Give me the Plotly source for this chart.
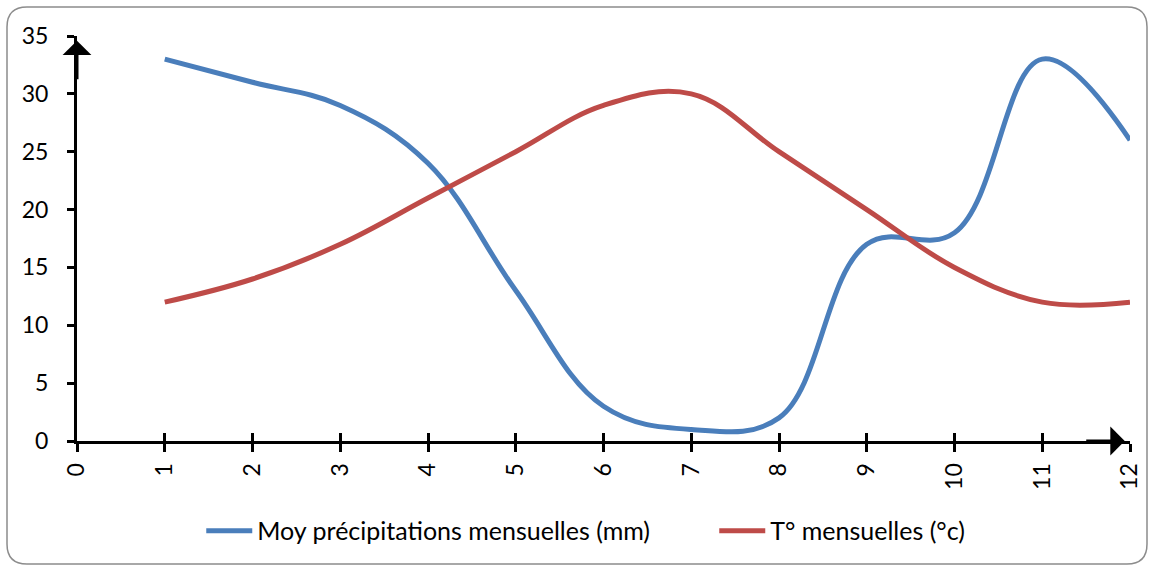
import plotly.graph_objects as go

months = [1, 2, 3, 4, 5, 6, 7, 8, 9, 10, 11, 12]
precip = [33, 31, 29, 24, 13, 3, 1, 2, 17, 18, 33, 26]
temp = [12, 14, 17, 21, 25, 29, 30, 25, 20, 15, 12, 12]
x_ticks = list(range(0, 13))
y_ticks = list(range(0, 36, 5))

W, H = 1150, 567
L, R, T, B = 77, 20, 36, 126
pw, ph = W - L - R, H - T - B

def px(x):
    return (x - L) / pw

def py(y):
    return (H - B - y) / ph

FONT = "Lato"

fig = go.Figure()
fig.add_trace(go.Scatter(x=months, y=precip, mode="lines", name="Moy précipitations mensuelles (mm)",
                         line=dict(color="#4A7EBB", width=5, shape="spline", smoothing=1.1)))
fig.add_trace(go.Scatter(x=months, y=temp, mode="lines", name="T° mensuelles (°c)",
                         line=dict(color="#BE4B48", width=5, shape="spline", smoothing=1.1)))
# invisible trace to activate the overlay axis used for the upper half of cross ticks
fig.add_trace(go.Scatter(x=[0, 12], y=[0, 0], xaxis="x2", mode="lines", line=dict(width=0),
                         showlegend=False, hoverinfo="skip"))

# rounded border
x0, y0, x1, y1, r = 7, 7, 1147, 564, 20
path = (f"M {px(x0+r)},{py(y0)} L {px(x1-r)},{py(y0)} Q {px(x1)},{py(y0)} {px(x1)},{py(y0+r)} "
        f"L {px(x1)},{py(y1-r)} Q {px(x1)},{py(y1)} {px(x1-r)},{py(y1)} "
        f"L {px(x0+r)},{py(y1)} Q {px(x0)},{py(y1)} {px(x0)},{py(y1-r)} "
        f"L {px(x0)},{py(y0+r)} Q {px(x0)},{py(y0)} {px(x0+r)},{py(y0)} Z")
fig.add_shape(type="path", path=path, xref="paper", yref="paper",
              line=dict(color="#8C8C8C", width=1.5), layer="below")

# axis arrows
fig.add_annotation(x=0, y=34.6, xref="x", yref="y", ax=0, ay=40, axref="pixel", ayref="pixel",
                   showarrow=True, arrowhead=1, arrowsize=1.6, arrowwidth=3, arrowcolor="black", text="")
fig.add_annotation(x=11.94, y=0, xref="x", yref="y", ax=-40, ay=0, axref="pixel", ayref="pixel",
                   showarrow=True, arrowhead=1, arrowsize=1.6, arrowwidth=3, arrowcolor="black", text="")

fig.update_layout(
    width=W, height=H,
    margin=dict(l=L, r=R, t=T, b=B, autoexpand=False),
    paper_bgcolor="white", plot_bgcolor="white",
    font=dict(family=FONT, size=23, color="black"),
    showlegend=True,
    legend=dict(orientation="h", x=0.118, xanchor="left", y=-0.222, yanchor="middle",
                bgcolor="rgba(0,0,0,0)",
                font=dict(family=FONT, size=25, color="black"), itemwidth=46,
                entrywidth=452, entrywidthmode="pixels", tracegroupgap=0),
    xaxis=dict(range=[0, 12], tickvals=x_ticks, ticktext=[str(v) for v in x_ticks],
               tickangle=-90, showgrid=False, zeroline=False, showline=True, linecolor="black",
               linewidth=3, ticks="outside", ticklen=8, tickwidth=3, tickcolor="black",
               ticklabelstandoff=2, tickfont=dict(family=FONT, size=23, color="black")),
    xaxis2=dict(range=[0, 12], tickvals=x_ticks, overlaying="x", anchor="y", side="bottom",
                showgrid=False, zeroline=False, showline=False, ticks="inside", ticklen=8,
                tickwidth=3, tickcolor="black", showticklabels=False),
    yaxis=dict(range=[0, 35], tickvals=y_ticks, showgrid=False, zeroline=False, showline=True,
               linecolor="black", linewidth=3, ticks="outside", ticklen=7, tickwidth=3,
               tickcolor="black", ticklabelstandoff=14,
               tickfont=dict(family=FONT, size=23, color="black")),
)

fig.write_html("out.html")
